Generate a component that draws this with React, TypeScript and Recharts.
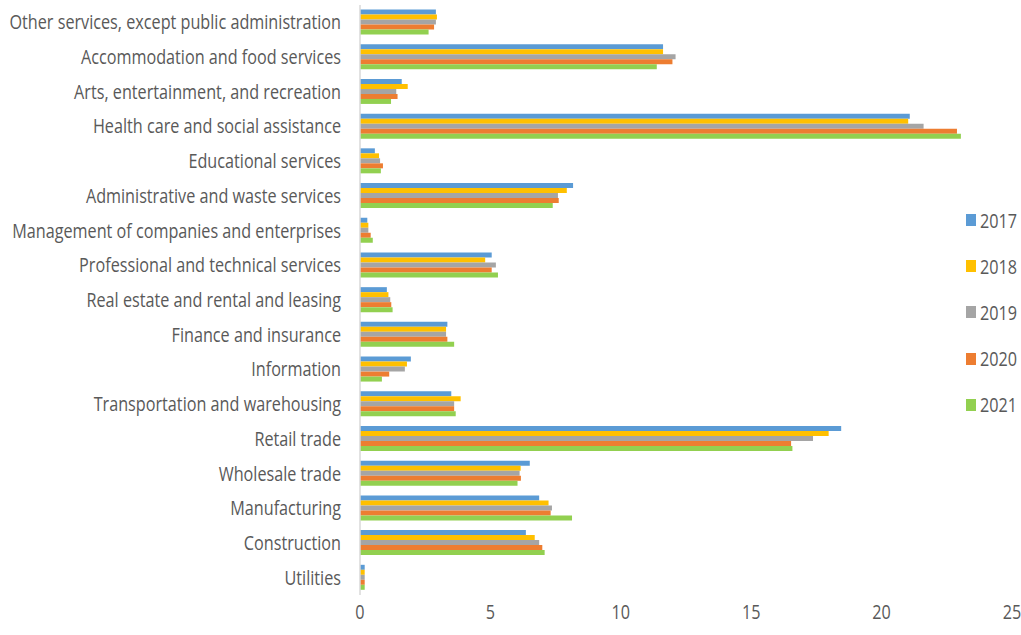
import { Bar, BarChart, XAxis, YAxis } from "recharts";

// categories top to bottom, as they appear on the chart
const industries = [
  "Other services, except public administration",
  "Accommodation and food services",
  "Arts, entertainment, and recreation",
  "Health care and social assistance",
  "Educational services",
  "Administrative and waste services",
  "Management of companies and enterprises",
  "Professional and technical services",
  "Real estate and rental and leasing",
  "Finance and insurance",
  "Information",
  "Transportation and warehousing",
  "Retail trade",
  "Wholesale trade",
  "Manufacturing",
  "Construction",
  "Utilities",
];

const y2017 = [2.91, 11.62, 1.6, 21.08, 0.57, 8.17, 0.28, 5.05, 1.03, 3.35, 1.95, 3.5, 18.45, 6.51, 6.87, 6.36, 0.18];
const y2018 = [2.95, 11.62, 1.83, 21.02, 0.73, 7.93, 0.32, 4.8, 1.09, 3.3, 1.8, 3.86, 17.97, 6.16, 7.23, 6.7, 0.18];
const y2019 = [2.91, 12.1, 1.39, 21.61, 0.77, 7.59, 0.32, 5.21, 1.16, 3.3, 1.72, 3.61, 17.37, 6.12, 7.36, 6.87, 0.18];
const y2020 = [2.84, 11.98, 1.44, 22.89, 0.88, 7.62, 0.41, 5.05, 1.2, 3.35, 1.12, 3.61, 16.53, 6.17, 7.31, 6.99, 0.18];
const y2021 = [2.63, 11.38, 1.19, 23.04, 0.8, 7.39, 0.49, 5.29, 1.25, 3.61, 0.84, 3.67, 16.58, 6.04, 8.13, 7.08, 0.18];

const years = ["2017", "2018", "2019", "2020", "2021"];
const colors = ["#5B9BD5", "#FFC000", "#A5A5A5", "#ED7D31", "#92D050"];
const xTicks = [0, 5, 10, 15, 20, 25];

const series = [y2017, y2018, y2019, y2020, y2021];
const data = industries.map((name, i) => {
  const row: Record<string, string | number> = { name };
  years.forEach((yr, s) => {
    row[yr] = series[s][i];
  });
  return row;
});

const FONT = "'Open Sans', sans-serif";
const TEXT = "#595959";
const SQUEEZE = 0.81; // reference uses a narrow font; squash Open Sans to match

function NarrowTick({ x, y, payload, anchor, dy }: any) {
  return (
    <text
      transform={`translate(${x},${y}) scale(${SQUEEZE},1)`}
      textAnchor={anchor}
      dy={dy}
      fontSize={20}
      fontFamily={FONT}
      fill={TEXT}
    >
      {payload.value}
    </text>
  );
}

export default function App() {
  return (
    <div style={{ position: "absolute", left: 0, top: 0, width: 1021, height: 635, background: "#fff", fontFamily: FONT }}>
      <BarChart
        width={1021}
        height={635}
        data={data}
        layout="vertical"
        margin={{ top: 5, right: 9, left: 0, bottom: 0 }}
        barCategoryGap="13%"
        barGap={0}
      >
        <XAxis
          type="number"
          domain={[0, 25]}
          ticks={xTicks}
          axisLine={false}
          tickLine={false}
          height={40}
          tick={<NarrowTick anchor="middle" dy={16} />}
        />
        <YAxis
          type="category"
          dataKey="name"
          width={360}
          tickLine={false}
          tickSize={0}
          tickMargin={19}
          interval={0}
          axisLine={{ stroke: "#D9D9D9", strokeWidth: 1.5 }}
          tick={<NarrowTick anchor="end" dy={7} />}
        />
        {years.map((yr, s) => (
          <Bar key={yr} dataKey={yr} fill={colors[s]} isAnimationActive={false} />
        ))}
      </BarChart>
      <div style={{ position: "absolute", left: 966, top: 197 }}>
        {years.map((yr, s) => (
          <div key={yr} style={{ display: "flex", alignItems: "center", height: 46.2, fontSize: 20, color: TEXT }}>
            <span style={{ width: 10, height: 12, background: colors[s], marginRight: 4 }} />
            <span style={{ display: "inline-block", transform: `scaleX(${SQUEEZE})`, transformOrigin: "left center" }}>{yr}</span>
          </div>
        ))}
      </div>
    </div>
  );
}
